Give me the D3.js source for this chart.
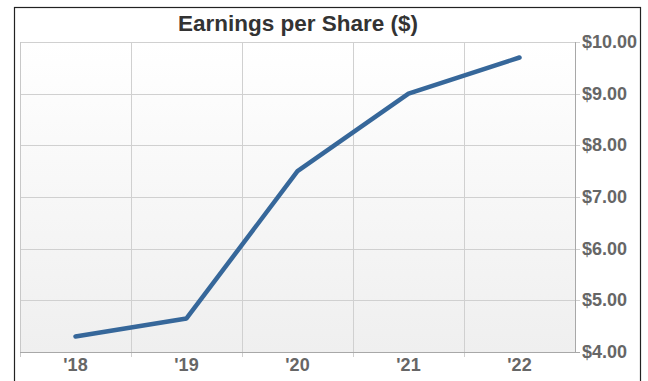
<!DOCTYPE html>
<html>
<head>
<meta charset="utf-8">
<script src="https://cdn.jsdelivr.net/npm/d3@7"></script>
<style>
  html, body { margin: 0; padding: 0; background: #fff; }
  svg { display: block; }
</style>
</head>
<body>
<svg id="chart" width="648" height="381"></svg>
<script>
// Earnings per share by fiscal year
const years = ["'18", "'19", "'20", "'21", "'22"];
const eps = [4.3, 4.65, 7.5, 9.0, 9.7];
const yTicks = [4, 5, 6, 7, 8, 9, 10];

const svg = d3.select("#chart");
const plot = { left: 20, right: 575, top: 42, bottom: 352 };
const font = "Liberation Sans, Arial, sans-serif";

// outer frame
svg.append("rect")
  .attr("x", 14.5).attr("y", 7.5)
  .attr("width", 626).attr("height", 390)
  .attr("fill", "#fff").attr("stroke", "#222").attr("stroke-width", 1.2);

const defs = svg.append("defs");
const grad = defs.append("linearGradient").attr("id", "bg").attr("x1", 0).attr("y1", 0).attr("x2", 0).attr("y2", 1);
grad.append("stop").attr("offset", "0%").attr("stop-color", "#ffffff");
grad.append("stop").attr("offset", "100%").attr("stop-color", "#efefef");

const x = d3.scaleBand().domain(years).range([plot.left, plot.right]);
const y = d3.scaleLinear().domain([4, 10]).range([plot.bottom, plot.top]);

svg.append("rect")
  .attr("x", plot.left).attr("y", plot.top)
  .attr("width", plot.right - plot.left).attr("height", plot.bottom - plot.top)
  .attr("fill", "url(#bg)");

// horizontal grid
svg.append("g").selectAll("line").data(yTicks).join("line")
  .attr("x1", plot.left).attr("x2", plot.right + 5)
  .attr("y1", d => Math.round(y(d)) + 0.5).attr("y2", d => Math.round(y(d)) + 0.5)
  .attr("stroke", "#d0d0d0").attr("stroke-width", 1);

// vertical grid at band boundaries
const bounds = years.slice(1).map(d => x(d));
svg.append("g").selectAll("line").data(bounds).join("line")
  .attr("x1", d => Math.round(d) + 0.5).attr("x2", d => Math.round(d) + 0.5)
  .attr("y1", plot.top).attr("y2", plot.bottom + 5)
  .attr("stroke", "#d0d0d0").attr("stroke-width", 1);

// plot edges
svg.append("line").attr("x1", plot.left + 0.5).attr("x2", plot.left + 0.5)
  .attr("y1", plot.top).attr("y2", plot.bottom + 5).attr("stroke", "#c8c8c8");
svg.append("line").attr("x1", plot.right + 0.5).attr("x2", plot.right + 0.5)
  .attr("y1", plot.top).attr("y2", plot.bottom).attr("stroke", "#a8a8a8");
svg.append("line").attr("x1", plot.left).attr("x2", plot.right + 5)
  .attr("y1", plot.bottom + 0.5).attr("y2", plot.bottom + 0.5).attr("stroke", "#a8a8a8");

// y-axis labels on the right
const yAxis = d3.axisRight(y).tickValues(yTicks).tickSize(0).tickPadding(0)
  .tickFormat(d => "$" + d3.format(".2f")(d));
const gy = svg.append("g").attr("transform", `translate(${plot.right + 7},0)`).call(yAxis);
gy.select(".domain").remove();
gy.selectAll("text")
  .attr("dy", "0.3em")
  .attr("font-family", font)
  .attr("font-weight", "bold").attr("font-size", 18).attr("fill", "#666");

// x-axis labels
const xAxis = d3.axisBottom(x).tickSize(0).tickPadding(0);
const gx = svg.append("g").attr("transform", `translate(0,${plot.bottom})`).call(xAxis);
gx.select(".domain").remove();
gx.selectAll("text")
  .attr("y", 19).attr("dy", 0)
  .attr("font-family", font)
  .attr("font-weight", "bold").attr("font-size", 18).attr("fill", "#666");

// EPS line
const line = d3.line()
  .x((d, i) => x(years[i]) + x.bandwidth() / 2)
  .y(d => y(d));
svg.append("path").datum(eps)
  .attr("d", line)
  .attr("fill", "none").attr("stroke", "#36679a")
  .attr("stroke-width", 4.5).attr("stroke-linejoin", "round").attr("stroke-linecap", "round");

// title
svg.append("text")
  .attr("x", 298).attr("y", 31)
  .attr("text-anchor", "middle")
  .attr("font-family", font)
  .attr("font-weight", "bold").attr("font-size", 22.5).attr("fill", "#333")
  .text("Earnings per Share ($)");
</script>
</body>
</html>
